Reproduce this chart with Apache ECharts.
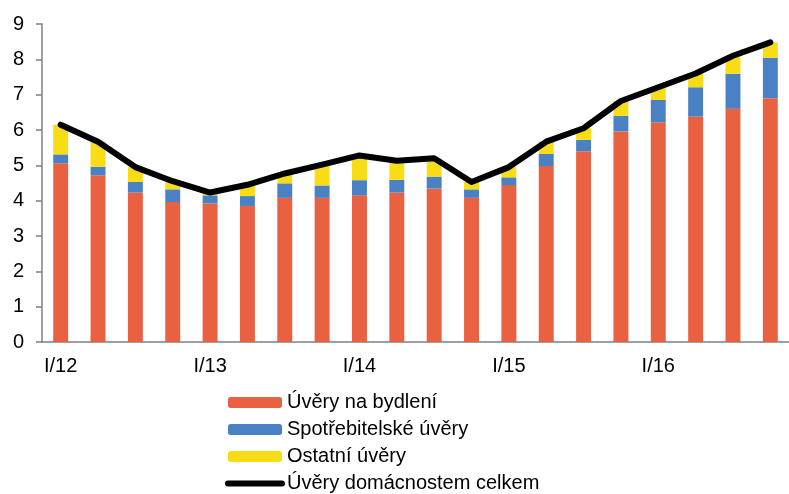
<!DOCTYPE html>
<html>
<head>
<meta charset="utf-8">
<script src="https://cdn.jsdelivr.net/npm/echarts@6/dist/echarts.min.js"></script>
<style>
  html, body { margin: 0; padding: 0; background: #fff; }
  #chart { width: 789px; height: 494px; }
</style>
</head>
<body>
<div id="chart"></div>
<script>
// čtvrtletí I/12 .. IV/16
var quarters = [
    'I/12', 'II/12', 'III/12', 'IV/12',
    'I/13', 'II/13', 'III/13', 'IV/13',
    'I/14', 'II/14', 'III/14', 'IV/14',
    'I/15', 'II/15', 'III/15', 'IV/15',
    'I/16', 'II/16', 'III/16', 'IV/16'
];
// úvěry na bydlení
var housing = [5.06, 4.72, 4.23, 3.96, 3.92, 3.85, 4.08, 4.08, 4.15, 4.23,
               4.34, 4.08, 4.44, 4.98, 5.40, 5.96, 6.22, 6.38, 6.60, 6.90];
// spotřebitelské úvěry
var consumer = [0.25, 0.24, 0.30, 0.36, 0.23, 0.28, 0.41, 0.35, 0.43, 0.36,
                0.34, 0.24, 0.22, 0.34, 0.32, 0.44, 0.63, 0.83, 0.99, 1.14];
// ostatní úvěry
var other = [0.84, 0.71, 0.42, 0.23, 0.08, 0.32, 0.28, 0.59, 0.70, 0.54,
             0.52, 0.21, 0.29, 0.35, 0.33, 0.42, 0.36, 0.39, 0.51, 0.44];
// úvěry domácnostem celkem
var total = [6.15, 5.67, 4.95, 4.55, 4.23, 4.45, 4.77, 5.02, 5.28, 5.13,
             5.20, 4.53, 4.95, 5.67, 6.05, 6.82, 7.21, 7.60, 8.10, 8.48];
var yTicks = [0, 1, 2, 3, 4, 5, 6, 7, 8, 9];

var fontFamily = '"Liberation Sans", Arial, sans-serif';

var chart = echarts.init(document.getElementById('chart'));
chart.setOption({
    animation: false,
    grid: {
        left: 42,
        right: 0,
        top: 24,
        bottom: 152
    },
    legend: {
        orient: 'vertical',
        left: 225,
        top: 392,
        padding: 0,
        itemWidth: 54,
        itemHeight: 11,
        itemGap: 6,
        textStyle: {
            fontFamily: fontFamily,
            fontSize: 20,
            lineHeight: 21,
            color: '#000'
        },
        data: [
            'Úvěry na bydlení',
            'Spotřebitelské úvěry',
            'Ostatní úvěry',
            {
                name: 'Úvěry domácnostem celkem',
                itemStyle: { opacity: 0 },
                lineStyle: { width: 6, cap: 'round', color: '#000' }
            }
        ]
    },
    xAxis: {
        type: 'category',
        data: quarters,
        axisLine: { lineStyle: { color: '#808080', width: 1.5 } },
        axisTick: { show: false },
        axisLabel: {
            interval: 3,
            margin: 14,
            color: '#000',
            fontFamily: fontFamily,
            fontSize: 20
        }
    },
    yAxis: {
        type: 'value',
        min: yTicks[0],
        max: yTicks[yTicks.length - 1],
        interval: 1,
        splitLine: { show: false },
        axisLine: { show: true, lineStyle: { color: '#808080', width: 1.5 } },
        axisTick: { show: true, inside: false, length: 6, lineStyle: { color: '#808080', width: 1.5 } },
        axisLabel: {
            margin: 18,
            color: '#000',
            fontFamily: fontFamily,
            fontSize: 20
        }
    },
    series: [{
        name: 'Úvěry na bydlení',
        type: 'bar',
        stack: 'uvery',
        barWidth: '40%',
        itemStyle: { color: '#E96140' },
        data: housing
    }, {
        name: 'Spotřebitelské úvěry',
        type: 'bar',
        stack: 'uvery',
        itemStyle: { color: '#4A80C4' },
        data: consumer
    }, {
        name: 'Ostatní úvěry',
        type: 'bar',
        stack: 'uvery',
        itemStyle: { color: '#F8DD16' },
        data: other
    }, {
        name: 'Úvěry domácnostem celkem',
        type: 'line',
        symbol: 'none',
        lineStyle: { color: '#000', width: 6, cap: 'round', join: 'round' },
        itemStyle: { color: '#000' },
        data: total
    }]
});
</script>
</body>
</html>
